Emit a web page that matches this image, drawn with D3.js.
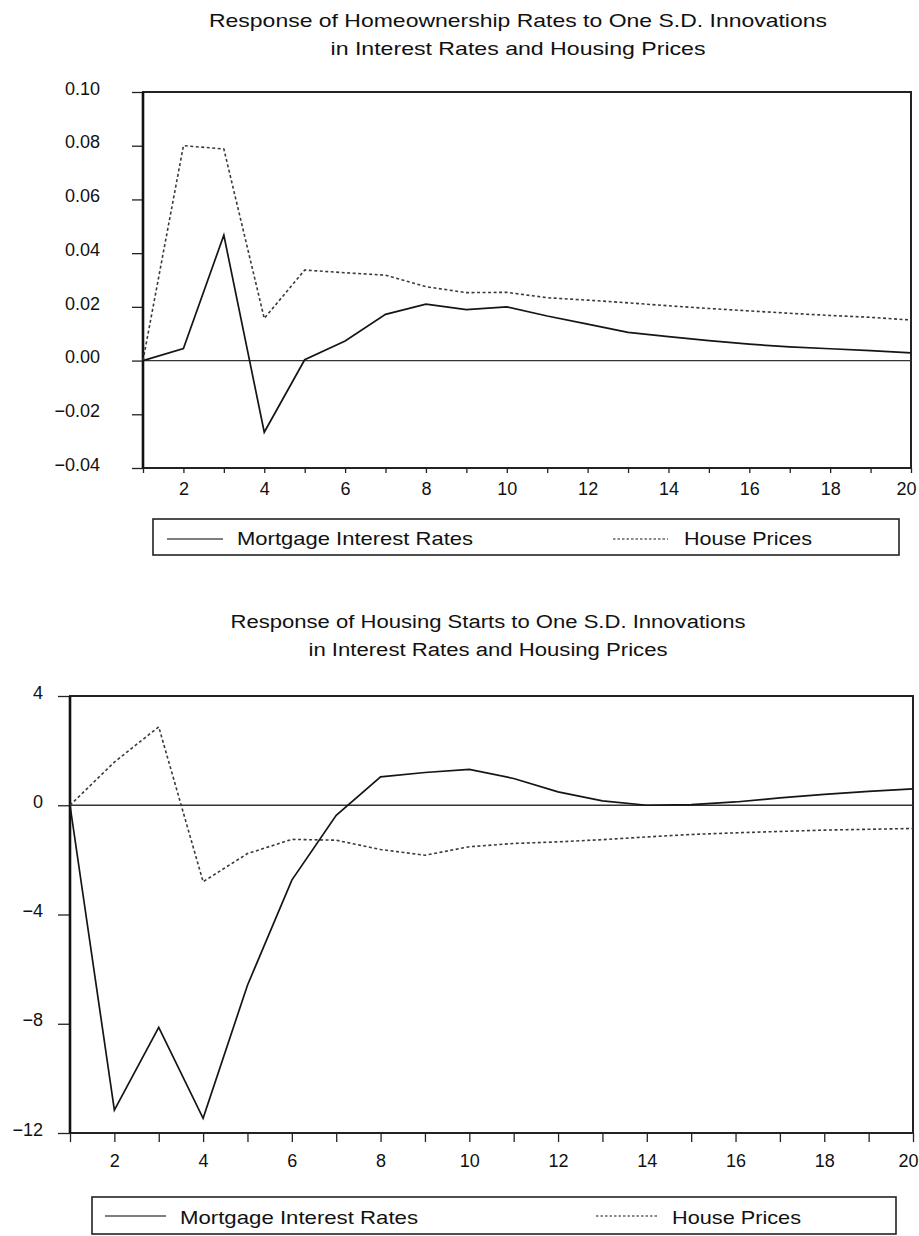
<!DOCTYPE html>
<html>
<head>
<meta charset="utf-8">
<script src="https://cdn.jsdelivr.net/npm/d3@7"></script>
<style>
  body { margin: 0; background: #fff; }
  svg { display: block; font-family: "Liberation Sans", Arial, sans-serif; }
  .axis text { font-size: 18px; fill: #111; }
  .axis line, .axis path { stroke: #222; }
</style>
</head>
<body>
<div id="chart"></div>
<script>
// periods after the shock
const periods = [1, 2, 3, 4, 5, 6, 7, 8, 9, 10, 11, 12, 13, 14, 15, 16, 17, 18, 19, 20];
const periodLabels = [2, 4, 6, 8, 10, 12, 14, 16, 18, 20];

// homeownership rates response
const homeMortgage = [0, 0.0045, 0.0467, -0.0267, 0.0003, 0.0073, 0.0172, 0.0210, 0.0190, 0.0200,
  0.0166, 0.0136, 0.0105, 0.0089, 0.0074, 0.0061, 0.0051, 0.0044, 0.0037, 0.0029];
const homePrices = [0, 0.0800, 0.0788, 0.0157, 0.0337, 0.0327, 0.0318, 0.0275, 0.0253, 0.0254,
  0.0234, 0.0225, 0.0215, 0.0204, 0.0194, 0.0185, 0.0176, 0.0168, 0.0161, 0.0151];
const homeTicks = [-0.04, -0.02, 0, 0.02, 0.04, 0.06, 0.08, 0.10];

// housing starts response
const startsMortgage = [0, -11.16, -8.13, -11.46, -6.59, -2.74, -0.37, 1.04, 1.20, 1.31,
  0.98, 0.49, 0.16, 0.0, 0.02, 0.12, 0.27, 0.40, 0.51, 0.60];
const startsPrices = [0, 1.58, 2.87, -2.80, -1.77, -1.25, -1.28, -1.62, -1.83, -1.52,
  -1.40, -1.34, -1.26, -1.16, -1.07, -1.01, -0.96, -0.91, -0.88, -0.85];
const startsTicks = [-12, -8, -4, 0, 4];

const seriesNames = ["Mortgage Interest Rates", "House Prices"];

const svg = d3.select("#chart").append("svg")
  .attr("width", 919)
  .attr("height", 1236);

function drawPanel(p) {
  const x = d3.scaleLinear().domain([1, 20]).range([p.left, p.right]);
  const y = d3.scaleLinear().domain(p.domain).range([p.bottom, p.top]);
  const g = svg.append("g");

  // title, two lines
  p.title.forEach((t, i) => {
    g.append("text")
      .attr("x", p.titleX).attr("y", p.titleY[i])
      .attr("text-anchor", "middle")
      .attr("font-size", p.titleSize)
      .attr("textLength", p.titleLen[i]).attr("lengthAdjust", "spacingAndGlyphs")
      .attr("fill", "#111")
      .text(t);
  });

  // y axis
  const yAxis = g.append("g")
    .attr("class", "axis")
    .attr("transform", "translate(" + p.left + ",0)")
    .call(d3.axisLeft(y).tickValues(p.ticks).tickFormat(p.fmt)
      .tickSize(p.yTick).tickPadding(p.yPad));
  yAxis.select(".domain").remove();
  yAxis.selectAll("line").attr("stroke-width", 1.3);
  yAxis.selectAll("text").attr("dy", "0.12em");

  // x axis
  const xAxis = g.append("g")
    .attr("class", "axis")
    .attr("transform", "translate(0," + p.bottom + ")")
    .call(d3.axisBottom(x).tickValues(periods)
      .tickFormat(d => periodLabels.includes(d) ? d : "")
      .tickSize(p.xTick).tickPadding(p.xPad));
  xAxis.select(".domain").remove();
  xAxis.selectAll("line").attr("stroke-width", 1.3);
  // last label sits against the page edge
  xAxis.selectAll("text").filter(d => d === 20).attr("dx", -5);

  // frame
  g.append("rect")
    .attr("x", p.left).attr("y", p.top)
    .attr("width", p.right - p.left).attr("height", p.bottom - p.top)
    .attr("fill", "none").attr("stroke", "#222").attr("stroke-width", 2);
  g.append("line")
    .attr("x1", p.left).attr("x2", p.left)
    .attr("y1", p.top).attr("y2", p.bottom)
    .attr("stroke", "#111").attr("stroke-width", 2.6);

  // zero line
  g.append("line")
    .attr("x1", x(1)).attr("x2", x(20))
    .attr("y1", y(0)).attr("y2", y(0))
    .attr("stroke", "#333").attr("stroke-width", 1.3);

  const line = d3.line()
    .x((d, i) => x(periods[i]))
    .y(d => y(d));

  g.append("path")
    .datum(p.prices)
    .attr("d", line)
    .attr("fill", "none").attr("stroke", "#3a3a3a")
    .attr("stroke-width", 1.6).attr("stroke-dasharray", "3,2.5");

  g.append("path")
    .datum(p.mortgage)
    .attr("d", line)
    .attr("fill", "none").attr("stroke", "#151515")
    .attr("stroke-width", 1.7);

  // legend
  const lg = p.legend;
  g.append("rect")
    .attr("x", lg.x0).attr("y", lg.y0)
    .attr("width", lg.x1 - lg.x0).attr("height", lg.y1 - lg.y0)
    .attr("fill", "none").attr("stroke", "#222").attr("stroke-width", 1.6);

  const items = [
    {name: seriesNames[0], sample: lg.s1, textX: lg.t1, len: lg.l1, dash: null, col: "#555"},
    {name: seriesNames[1], sample: lg.s2, textX: lg.t2, len: lg.l2, dash: "2.5,2", col: "#666"}
  ];
  items.forEach(it => {
    g.append("line")
      .attr("x1", it.sample[0]).attr("x2", it.sample[1])
      .attr("y1", lg.lineY).attr("y2", lg.lineY)
      .attr("stroke", it.col).attr("stroke-width", 1.3)
      .attr("stroke-dasharray", it.dash);
    g.append("text")
      .attr("x", it.textX).attr("y", lg.textY)
      .attr("font-size", 19)
      .attr("textLength", it.len).attr("lengthAdjust", "spacingAndGlyphs")
      .attr("fill", "#111")
      .text(it.name);
  });
}

drawPanel({
  title: ["Response of Homeownership Rates to One S.D. Innovations", "in Interest Rates and Housing Prices"],
  titleX: 518, titleY: [27, 55], titleLen: [618, 375], titleSize: 18.5,
  left: 143, right: 911, top: 92, bottom: 468,
  domain: [-0.04, 0.10], ticks: homeTicks, fmt: d3.format(".2f"),
  yTick: 11, yPad: 32, xTick: 5, xPad: 9,
  mortgage: homeMortgage, prices: homePrices,
  legend: {x0: 153, x1: 899, y0: 519, y1: 555, lineY: 539, textY: 545,
    s1: [167, 223], t1: 237, l1: 236, s2: [613, 668], t2: 684, l2: 128}
});

drawPanel({
  title: ["Response of Housing Starts to One S.D. Innovations", "in Interest Rates and Housing Prices"],
  titleX: 488, titleY: [628, 656], titleLen: [515, 359], titleSize: 18,
  left: 70, right: 913, top: 696, bottom: 1133,
  domain: [-12, 4], ticks: startsTicks, fmt: d3.format("d"),
  yTick: 12, yPad: 15, xTick: 9, xPad: 12,
  mortgage: startsMortgage, prices: startsPrices,
  legend: {x0: 92, x1: 896, y0: 1197, y1: 1234, lineY: 1216, textY: 1224,
    s1: [105, 166], t1: 180, l1: 238, s2: [596, 658], t2: 672, l2: 129}
});
</script>
</body>
</html>
